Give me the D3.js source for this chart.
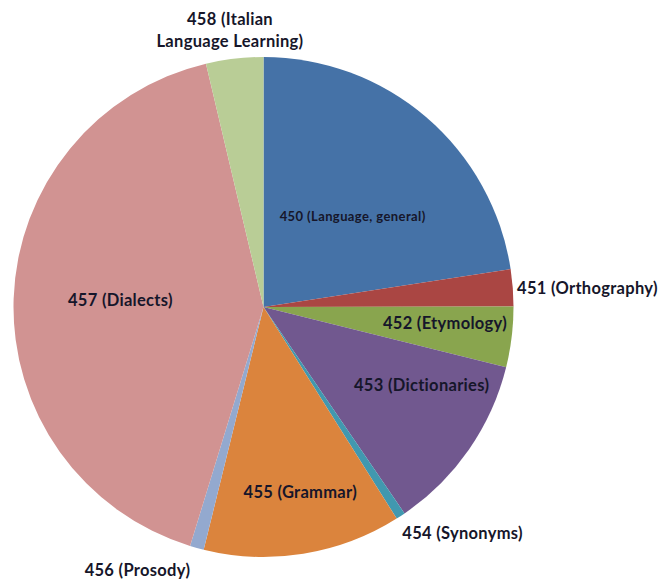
<!DOCTYPE html>
<html>
<head>
<meta charset="utf-8">
<script src="https://cdn.jsdelivr.net/npm/d3@7"></script>
<style>
  body { margin: 0; background: #fff; }
  .label { font-family: Lato, "Open Sans", sans-serif; font-weight: bold; fill: #16162a; }
</style>
</head>
<body>
<div id="chart"></div>
<script>
// pie.js - Dewey 450 (Italian language) breakdown

// Data (share of the pie, in tenths of a percent)
const categories = [
  '450 (Language, general)', '451 (Orthography)', '452 (Etymology)',
  '453 (Dictionaries)', '454 (Synonyms)', '455 (Grammar)',
  '456 (Prosody)', '457 (Dialects)', '458 (Italian Language Learning)'
];
const values = [226, 24, 39, 116, 6, 128, 9, 416, 37];
const colors = ['#4572A7', '#AA4643', '#89A54E', '#71588F', '#4198AF',
                '#DB843D', '#93A9CF', '#D19392', '#B9CD96'];

// Label placement: [angle in degrees from 12 o'clock, radius as fraction of pie radius]
const labelPolar = [
  [44.7, 0.507], [86.6, 1.298], [95.2, 0.729], [116.4, 0.706], [138.6, 1.204],
  [168.8, 0.757], [205.6, 1.167], [272.6, 0.573], [353.1, 1.116]
];
// Line breaks used for the wrapped label
const labelLines = [
  ['450 (Language, general)'], ['451 (Orthography)'], ['452 (Etymology)'],
  ['453 (Dictionaries)'], ['454 (Synonyms)'], ['455 (Grammar)'],
  ['456 (Prosody)'], ['457 (Dialects)'], ['458 (Italian', 'Language Learning)']
];

const width = 661, height = 585;
const cx = 263.5, cy = 307, radius = 250;

const svg = d3.select('#chart').append('svg')
    .attr('width', width)
    .attr('height', height);

const pie = d3.pie().sort(null).value(d => d);
const arcs = pie(values);

const arc = d3.arc().innerRadius(0).outerRadius(radius);

const g = svg.append('g').attr('transform', `translate(${cx},${cy})`);

g.selectAll('path')
  .data(arcs)
  .join('path')
    .attr('d', arc)
    .attr('fill', (d, i) => colors[i]);

// Labels
const labels = g.selectAll('text.label')
  .data(arcs)
  .join('text')
    .attr('class', 'label')
    .attr('text-anchor', 'middle')
    .attr('font-size', (d, i) => i === 0 ? 13 : 16.5)
    .attr('letter-spacing', (d, i) => i === 0 ? 0.4 : 0.3)
    .attr('font-weight', (d, i) => i === 0 ? 'normal' : 'bold')
    .attr('transform', (d, i) => {
      const [a, k] = labelPolar[i];
      const [x, y] = d3.pointRadial(a * Math.PI / 180, k * radius);
      return `translate(${x},${y})`;
    });

labels.each(function(d, i) {
  const lines = labelLines[i];
  const lh = 22;
  const el = d3.select(this);
  lines.forEach((line, j) => {
    el.append('tspan')
      .attr('x', 0)
      .attr('y', (j - (lines.length - 1) / 2) * lh)
      .attr('dy', '0.35em')
      .text(line);
  });
});
</script>
</body>
</html>
